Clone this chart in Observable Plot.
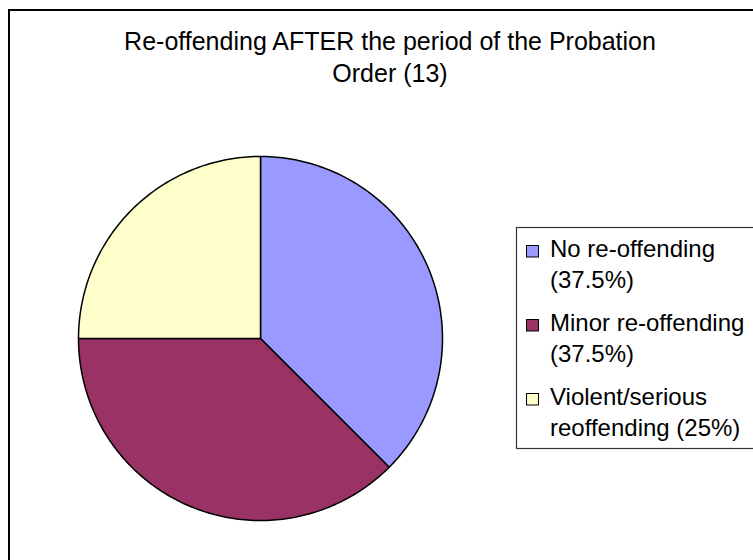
<!DOCTYPE html>
<html>
<head>
<meta charset="utf-8">
<script src="https://cdn.jsdelivr.net/npm/d3@7"></script>
<script src="https://cdn.jsdelivr.net/npm/@observablehq/plot@0.6"></script>
<style>
  body { margin: 0; background: #fff; }
  #wrap { position: relative; width: 753px; height: 560px; overflow: hidden; background: #fff;
          font-family: "Liberation Sans", Arial, sans-serif; }
  #frame { position: absolute; left: 8px; top: 9px; width: 900px; height: 700px; border: 2px solid #000; }
  #wrap svg { position: absolute; left: 0; top: 0; }
</style>
</head>
<body>
<div id="wrap"><div id="frame"></div></div>
<script>
const titleLines = ["Re-offending AFTER the period of the Probation", "Order (13)"];
const categories = ["No re-offending", "Minor re-offending", "Violent/serious reoffending"];
const values = [37.5, 37.5, 25];
const colors = ["#9999FF", "#993366", "#FFFFCC"];
const legendLines = [["No re-offending", "(37.5%)"], ["Minor re-offending", "(37.5%)"], ["Violent/serious", "reoffending (25%)"]];

const table = categories.map((c, i) => ({category: c, value: values[i], color: colors[i]}));
const arcs = d3.pie().sort(null).value(d => d.value)(table);
const slices = arcs.map((a, i) => {
  const pts = [{x: 0, y: 0}];
  const n = Math.max(2, Math.ceil((a.endAngle - a.startAngle) / (Math.PI / 180)));
  for (let k = 0; k <= n; k++) {
    const t = a.startAngle + (a.endAngle - a.startAngle) * k / n;
    pts.push({x: Math.sin(t), y: Math.cos(t)});
  }
  return {pts, color: a.data.color};
});

const plot = Plot.plot({
  width: 753,
  height: 560,
  margin: 0,
  x: {domain: [-1, 1], range: [78, 442], axis: null},
  y: {domain: [-1, 1], range: [520, 156], axis: null},
  style: {background: "transparent", overflow: "visible"},
  marks: slices.map(s => Plot.line(s.pts, {
    x: "x", y: "y", fill: s.color, stroke: "#000", strokeWidth: 1.5, curve: "linear-closed"
  }))
});
const wrap = document.getElementById("wrap");
wrap.appendChild(plot);

// Title and legend overlay
const svg = d3.select(wrap).append("svg").attr("width", 753).attr("height", 560)
  .style("font-family", "'Liberation Sans', Arial, sans-serif");

svg.selectAll("text.title").data(titleLines).join("text")
  .attr("class", "title")
  .attr("x", 390).attr("y", (d, i) => 50 + i * 32)
  .attr("text-anchor", "middle").attr("font-size", 25).attr("fill", "#000")
  .text(d => d);

svg.append("rect").attr("x", 516.5).attr("y", 227.5).attr("width", 300).attr("height", 221)
  .attr("fill", "#fff").attr("stroke", "#333").attr("stroke-width", 1.2);

const g = svg.selectAll("g.entry").data(legendLines).join("g").attr("class", "entry")
  .attr("transform", (d, i) => `translate(0,${256.5 + i * 74})`);
g.append("rect").attr("x", 526.5).attr("y", -11).attr("width", 12).attr("height", 11.5)
  .attr("fill", (d, i) => colors[i]).attr("stroke", "#000").attr("stroke-width", 1);
g.selectAll("text").data(d => d).join("text")
  .attr("x", 550).attr("y", (d, j) => j * 31.5)
  .attr("font-size", 24).attr("fill", "#000")
  .text(d => d);
</script>
</body>
</html>
